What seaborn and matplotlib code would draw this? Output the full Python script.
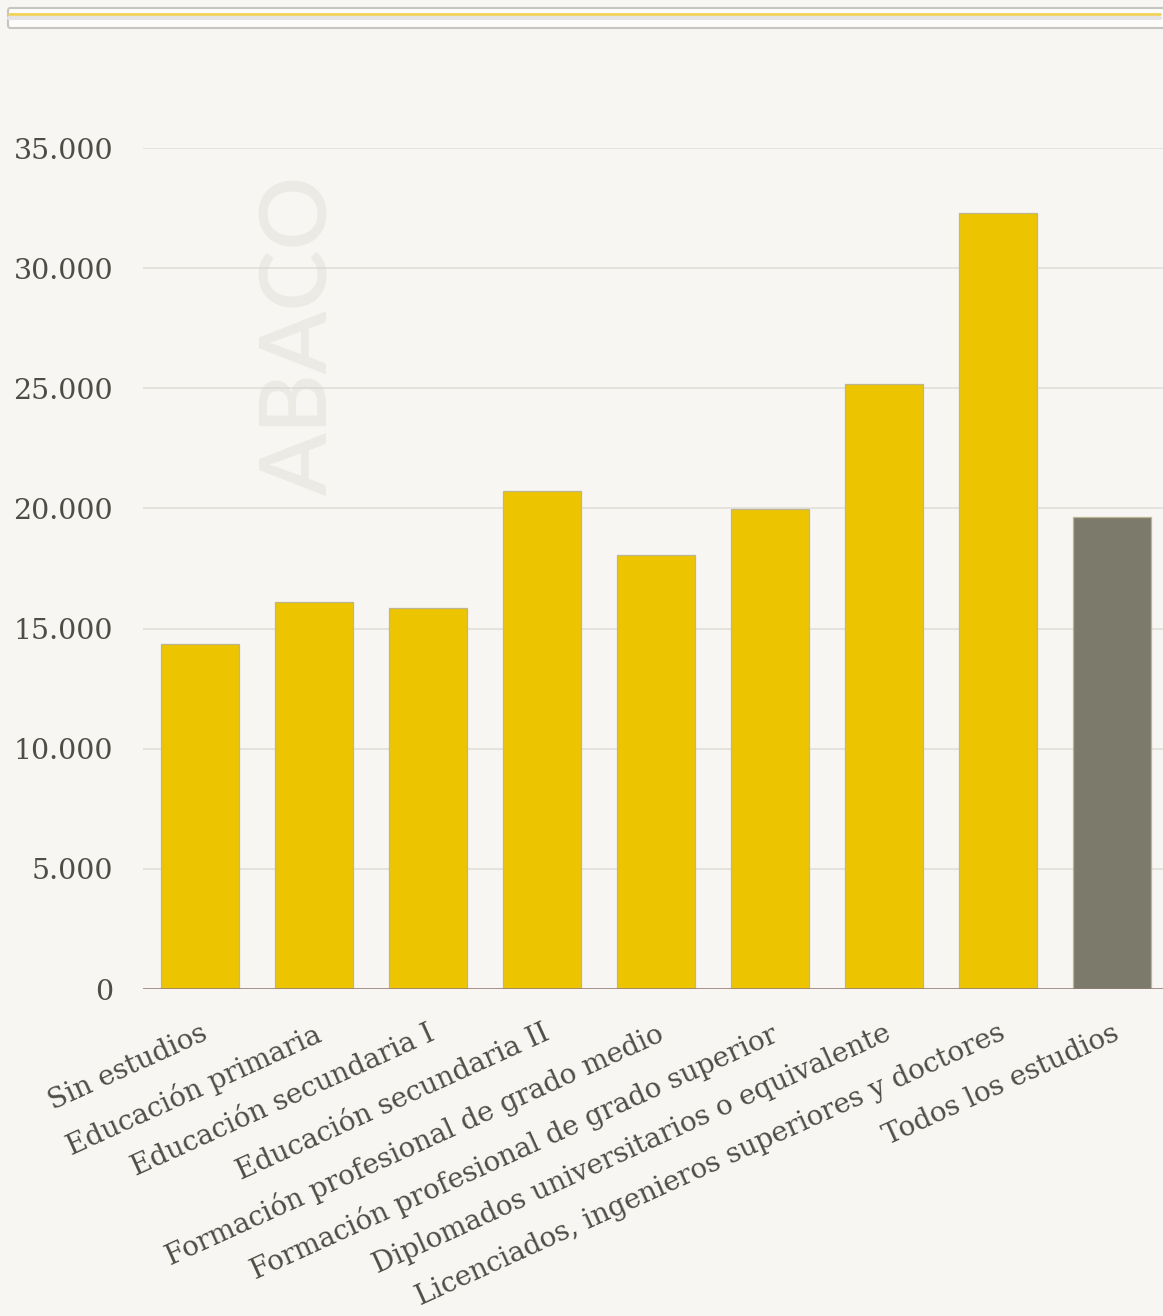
import matplotlib
matplotlib.use("Agg")
import matplotlib.pyplot as plt
from matplotlib.patches import FancyBboxPatch
from matplotlib.lines import Line2D
from matplotlib.ticker import FuncFormatter
import seaborn as sns

# data
categories = [
    "Sin estudios",
    "Educación primaria",
    "Educación secundaria I",
    "Educación secundaria II",
    "Formación profesional de grado medio",
    "Formación profesional de grado superior",
    "Diplomados universitarios o equivalente",
    "Licenciados, ingenieros superiores y doctores",
    "Todos los estudios",
]
salaries = [14360, 16100, 15860, 20720, 18060, 19970, 25180, 32290, 19640]
bar_colors = ["#ecc500"] * 8 + ["#7c7a6b"]
y_ticks = [0, 5000, 10000, 15000, 20000, 25000, 30000, 35000]

BG = "#f7f6f2"
TEXT = "#4e4e46"
W, H = 1163, 1316

sns.set_theme(style="white")
plt.rcParams["font.family"] = ["DejaVu Serif", "DejaVu Sans"]

fig = plt.figure(figsize=(W / 100, H / 100), dpi=100)
fig.patch.set_facecolor(BG)

# plot area, right edge runs past the figure like in the screenshot
left, right, bottom, top = 143, 1169, 989, 148
ax = fig.add_axes([left / W, 1 - bottom / H, (right - left) / W, (bottom - top) / H])
ax.set_facecolor(BG)

sns.barplot(x=categories, y=salaries, hue=categories, palette=bar_colors,
            dodge=False, legend=False, width=0.685, saturation=1,
            edgecolor="#bdb592", linewidth=0.9, ax=ax, zorder=3)

ax.set_xlim(-0.5, len(categories) - 0.5)
ax.set_ylim(0, 35000)
ax.set_yticks(y_ticks)
ax.yaxis.set_major_formatter(FuncFormatter(lambda v, p: f"{int(v):,}".replace(",", ".")))
ax.grid(axis="y", color="#e2e0da", linewidth=1.3, zorder=0)
ax.grid(axis="x", visible=False)
for s in ax.spines.values():
    s.set_visible(False)
ax.axhline(0, color="#957878", linewidth=1.8, zorder=4)

ax.tick_params(axis="y", length=0, pad=21.5, labelsize=20.5, labelcolor=TEXT)
ax.tick_params(axis="x", length=0, pad=22, labelsize=20, labelcolor=TEXT)
ax.set_xticks(range(len(categories)))
ax.set_xticklabels(categories, rotation=24.5, ha="right", va="top",
                   rotation_mode="anchor")
ax.set_xlabel("")
ax.set_ylabel("")

# watermark
fig.text(302 / W, 1 - 336 / H, "ABACO", rotation=90, ha="center", va="center",
         fontsize=66, family="Lato", weight="semibold", color="#d8d5cc", alpha=0.36,
         zorder=5)

# top strip
fig.patches.append(FancyBboxPatch((8 / W, 1 - 28 / H), 1.0, 20 / H,
                                  boxstyle="round,pad=0,rounding_size=0.002",
                                  transform=fig.transFigure, facecolor="#fcfcfa",
                                  edgecolor="#c6c5c0", linewidth=1.5))
fig.lines.append(Line2D([9 / W, 1160 / W], [1 - 18 / H, 1 - 18 / H],
                        transform=fig.transFigure, color="#e4e4e6", linewidth=3))
fig.lines.append(Line2D([9 / W, 1160 / W], [1 - 14 / H, 1 - 14 / H],
                        transform=fig.transFigure, color="#f0d35a", linewidth=2))

fig.savefig("out.png", dpi=100, facecolor=BG)
